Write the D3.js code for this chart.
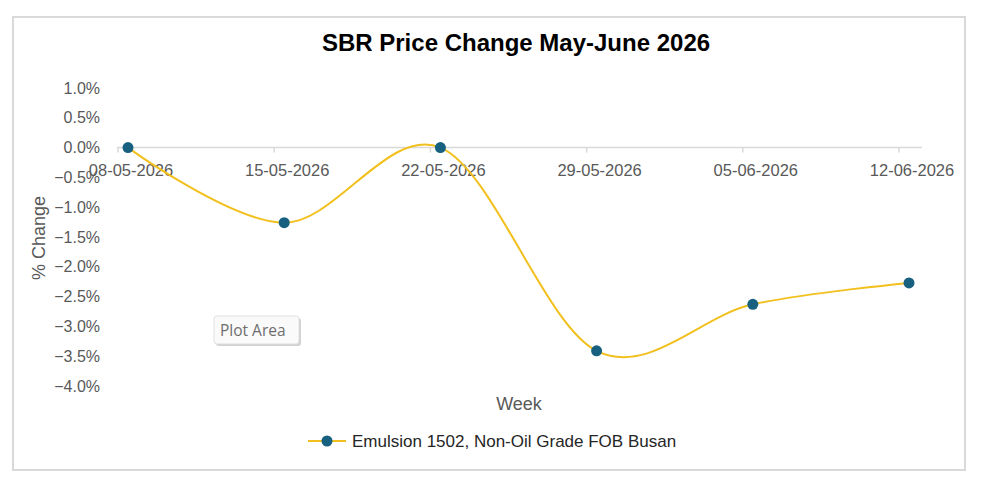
<!DOCTYPE html>
<html>
<head>
<meta charset="utf-8">
<script src="https://cdn.jsdelivr.net/npm/d3@7"></script>
<style>
  html, body { margin: 0; padding: 0; background: #fff; }
  svg { display: block; }
</style>
</head>
<body>
<svg id="chart" width="984" height="490"></svg>
<script>
const title = "SBR Price Change May-June 2026";
const categories = ["08-05-2026", "15-05-2026", "22-05-2026", "29-05-2026", "05-06-2026", "12-06-2026"];
const seriesName = "Emulsion 1502, Non-Oil Grade FOB Busan";
const values = [0.0, -1.26, 0.0, -3.41, -2.63, -2.27];
const yTicks = [1.0, 0.5, 0.0, -0.5, -1.0, -1.5, -2.0, -2.5, -3.0, -3.5, -4.0];
const yTitle = "% Change";
const xTitle = "Week";

const svg = d3.select("#chart");
const font = "'Liberation Sans', Arial, sans-serif";
const lineColor = "#F2C01E";
const markerColor = "#17607F";
const textGray = "#595959";

// chart frame
svg.append("rect").attr("x", 13).attr("y", 17).attr("width", 952).attr("height", 453)
  .attr("fill", "#fff").attr("stroke", "#d9d9d9").attr("stroke-width", 2);

// title
svg.append("text").attr("x", 516).attr("y", 51).attr("text-anchor", "middle")
  .attr("font-family", font).attr("font-weight", "bold").attr("font-size", 24)
  .attr("fill", "#000").text(title);

// scales
const x = d3.scalePoint().domain(categories).range([128, 909]);
const y = d3.scaleLinear().domain([-4, 1]).range([386, 88]);

// y axis labels
svg.append("g").selectAll("text").data(yTicks).join("text")
  .attr("x", 100).attr("y", d => y(d)).attr("dy", "0.35em")
  .attr("text-anchor", "end").attr("font-family", font).attr("font-size", 16)
  .attr("fill", textGray).text(d => d3.format(".1f")(d) + "%");

// x axis line at zero
const axisY = y(0);
svg.append("line").attr("x1", 117).attr("x2", 922).attr("y1", axisY).attr("y2", axisY)
  .attr("stroke", "#d9d9d9").attr("stroke-width", 1.5);
svg.append("g").selectAll("line").data(categories).join("line")
  .attr("x1", d => x(d) - 10).attr("x2", d => x(d) - 10)
  .attr("y1", axisY).attr("y2", axisY + 5)
  .attr("stroke", "#d9d9d9").attr("stroke-width", 1.5);
svg.append("g").selectAll("text").data(categories).join("text")
  .attr("x", d => x(d) + 3).attr("y", axisY + 28)
  .attr("text-anchor", "middle").attr("font-family", font).attr("font-size", 16.5)
  .attr("fill", textGray).text(d => d);

// axis titles
svg.append("text").attr("transform", "translate(45,238) rotate(-90)")
  .attr("text-anchor", "middle").attr("font-family", font).attr("font-size", 18)
  .attr("fill", textGray).text(yTitle);
svg.append("text").attr("x", 519).attr("y", 410).attr("text-anchor", "middle")
  .attr("font-family", font).attr("font-size", 18).attr("fill", textGray).text(xTitle);

// line
const data = categories.map((c, i) => ({ c, v: values[i] }));
const line = d3.line().x(d => x(d.c)).y(d => y(d.v)).curve(d3.curveCatmullRom.alpha(0));
svg.append("path").datum(data).attr("d", line).attr("fill", "none")
  .attr("stroke", lineColor).attr("stroke-width", 2);
svg.append("g").selectAll("circle").data(data).join("circle")
  .attr("cx", d => x(d.c)).attr("cy", d => y(d.v)).attr("r", 5.5)
  .attr("fill", markerColor);

// "Plot Area" tooltip
const tip = svg.append("g").attr("transform", "translate(214,316)");
tip.append("rect").attr("x", 2).attr("y", 2).attr("width", 85).attr("height", 28).attr("rx", 3)
  .attr("fill", "#bdbdbd").attr("opacity", 0.7);
tip.append("rect").attr("width", 85).attr("height", 28).attr("rx", 3)
  .attr("fill", "#fafafa").attr("stroke", "#e0e0e0");
tip.append("text").attr("x", 6).attr("y", 20).attr("font-family", "'Open Sans', sans-serif")
  .attr("font-size", 15.5).attr("fill", "#6e6e6e").text("Plot Area");

// legend
const lg = svg.append("g").attr("transform", "translate(308,441)");
lg.append("line").attr("x1", 0).attr("x2", 38).attr("stroke", lineColor).attr("stroke-width", 2);
lg.append("circle").attr("cx", 19).attr("r", 5.5).attr("fill", markerColor);
lg.append("text").attr("x", 44).attr("dy", "0.35em").attr("font-family", font)
  .attr("font-size", 17).attr("fill", "#262626").text(seriesName);
</script>
</body>
</html>
